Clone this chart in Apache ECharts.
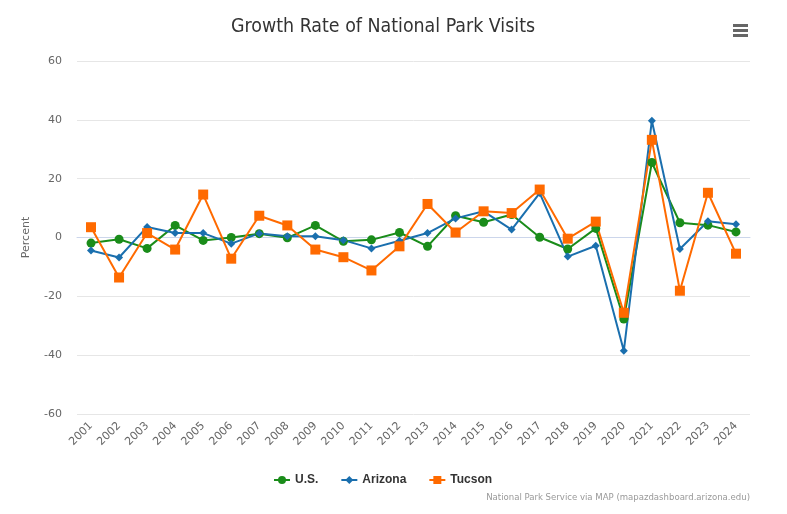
<!DOCTYPE html>
<html>
<head>
<meta charset="utf-8">
<script src="https://cdn.jsdelivr.net/npm/echarts@6/dist/echarts.min.js"></script>
<style>
  html, body { margin: 0; padding: 0; background: #fff; }
  #chart { width: 787px; height: 514px; }
</style>
</head>
<body>
<div id="chart"></div>
<script>
// years on the x axis
var years = ['2001', '2002', '2003', '2004', '2005', '2006', '2007', '2008', '2009', '2010', '2011', '2012',
  '2013', '2014', '2015', '2016', '2017', '2018', '2019', '2020', '2021', '2022', '2023', '2024']

// growth rate, percent
var usData = [-1.9, -0.6, -3.7, 4.1, -1.0, 0.0, 1.3, -0.1, 4.1, -1.3, -0.8, 1.7,
  -3.0, 7.4, 5.2, 7.8, 0.1, -3.9, 3.1, -27.7, 25.5, 5.0, 4.2, 1.9]
var arizonaData = [-4.4, -6.8, 3.6, 1.5, 1.5, -2.1, 1.4, 0.4, 0.4, -0.9, -3.7, -1.1,
  1.5, 6.5, 8.9, 2.7, 15.1, -6.5, -2.8, -38.5, 39.7, -3.9, 5.5, 4.5]
var tucsonData = [3.5, -13.6, 1.5, -4.1, 14.6, -7.2, 7.4, 4.1, -4.1, -6.7, -11.2, -3.0,
  11.4, 1.7, 8.9, 8.3, 16.3, -0.4, 5.4, -25.6, 33.2, -18.1, 15.2, -5.5]

var yTicks = { min: -60, max: 60, step: 20 }

var myChart = echarts.init(document.getElementById('chart'))

function lineSeries (name, data, color, symbol, size) {
  return {
    name: name,
    type: 'line',
    data: data,
    symbol: symbol,
    symbolSize: size,
    showAllSymbol: true,
    lineStyle: { width: 2, color: color },
    itemStyle: { color: color },
    emphasis: { disabled: true }
  }
}

var option = {
  animation: false,
  backgroundColor: '#fff',
  title: {
    text: 'Growth Rate of National Park Visits',
    left: 226,
    top: 12,
    textStyle: {
      fontFamily: 'Liberation Sans Narrow, DejaVu Sans Condensed, sans-serif',
      fontSize: 19.4,
      fontWeight: 'normal',
      color: '#333'
    }
  },
  legend: {
    bottom: 23,
    left: 268,
    itemWidth: 16,
    itemHeight: 10,
    itemGap: 22,
    textStyle: { fontFamily: 'Liberation Sans, Arial, sans-serif', fontSize: 12, fontWeight: 'bold', color: '#333' },
    data: ['U.S.', 'Arizona', 'Tucson']
  },
  grid: {
    left: 77,
    right: 37,
    top: 61,
    bottom: 100
  },
  xAxis: {
    type: 'category',
    data: years,
    boundaryGap: true,
    axisLine: { lineStyle: { color: '#ccd6eb' } },
    axisTick: { show: false },
    axisLabel: {
      rotate: 45,
      interval: 0,
      margin: 10,
      color: '#666',
      fontFamily: 'DejaVu Sans, sans-serif',
      fontSize: 11
    }
  },
  yAxis: {
    type: 'value',
    min: yTicks.min,
    max: yTicks.max,
    interval: yTicks.step,
    name: 'Percent',
    nameLocation: 'middle',
    nameGap: 45,
    nameTextStyle: { color: '#666', fontFamily: 'DejaVu Sans, sans-serif', fontSize: 11 },
    axisLine: { show: false },
    axisTick: { show: false },
    splitLine: { lineStyle: { color: '#e6e6e6' } },
    axisLabel: { color: '#666', fontFamily: 'DejaVu Sans, sans-serif', fontSize: 11, margin: 15 }
  },
  series: [
    lineSeries('U.S.', usData, '#1a8c1a', 'circle', 9),
    lineSeries('Arizona', arizonaData, '#1a6fae', 'diamond', 8),
    lineSeries('Tucson', tucsonData, '#ff6a00', 'rect', 10)
  ],
  graphic: [
    {
      type: 'group',
      left: 733,
      top: 24,
      children: [
        { type: 'rect', shape: { x: 0, y: 0, width: 15, height: 3 }, style: { fill: '#666' } },
        { type: 'rect', shape: { x: 0, y: 5, width: 15, height: 3 }, style: { fill: '#666' } },
        { type: 'rect', shape: { x: 0, y: 10, width: 15, height: 3 }, style: { fill: '#666' } }
      ]
    },
    {
      type: 'text',
      right: 37,
      bottom: 11,
      style: {
        text: 'National Park Service via MAP (mapazdashboard.arizona.edu)',
        fill: '#999',
        fontFamily: 'DejaVu Sans Condensed, sans-serif',
        fontSize: 9.5
      }
    }
  ]
}

myChart.setOption(option)
</script>
</body>
</html>
